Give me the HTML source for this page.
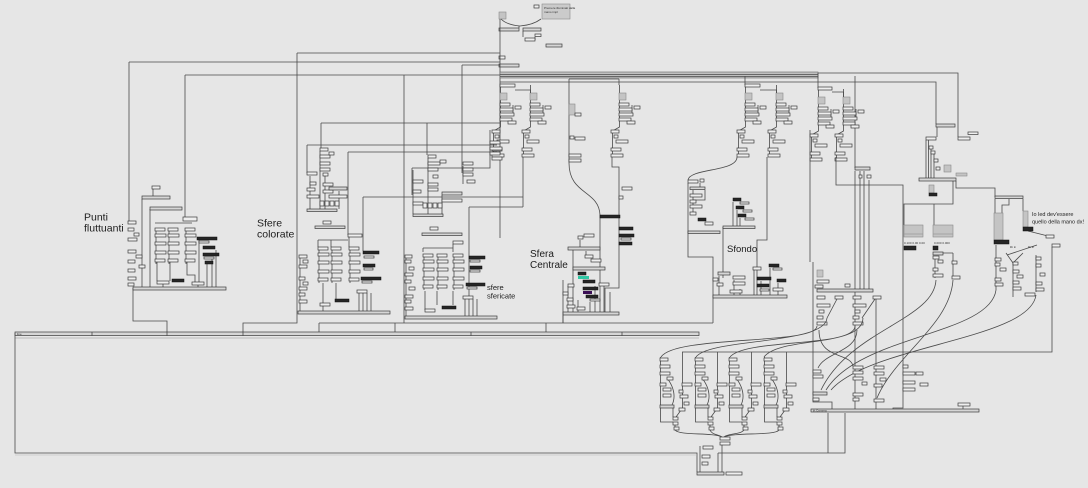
<!DOCTYPE html>
<html><head><meta charset="utf-8">
<style>
html,body{margin:0;padding:0;background:#e6e6e6;width:1088px;height:488px;overflow:hidden}
svg{display:block}
.l{stroke:#4a4a4a;stroke-width:.8;fill:none}
.b{fill:#efefef;stroke:#3a3a3a;stroke-width:.7}
.k{fill:#262626;stroke:#111;stroke-width:.5}
.g{fill:#c4c4c4;stroke:#8a8a8a;stroke-width:.6}
.bar{fill:#d6d6d6;stroke:#3a3a3a;stroke-width:.7}
.lab{font-family:"Liberation Sans",sans-serif;fill:#1c1c1c}
.tiny{font-family:"Liberation Sans",sans-serif;fill:#333;font-size:3px}
</style></head><body>
<svg width="1088" height="488" viewBox="0 0 1088 488" xmlns="http://www.w3.org/2000/svg">
<defs>
<g id="cc">
<path class="l" d="M1,0V36"/>
<rect class="b" x="0" y="0" width="10" height="3"/>
<rect class="b" x="0" y="6" width="11" height="3"/>
<rect class="b" x="0" y="14" width="11" height="3"/>
<rect class="b" x="0" y="23" width="11" height="3"/>
<rect class="b" x="0" y="31" width="10" height="3"/>
</g>
<g id="ctl">
<path class="l" d="M0.5,0V42L-6.5,46V72 M13,20V28"/>
<rect class="g" x="0" y="8" width="7" height="7"/>
<rect class="b" x="0" y="18" width="10" height="3"/>
<rect class="b" x="0" y="23" width="13" height="3"/>
<rect class="b" x="15" y="21" width="6" height="3"/>
<rect class="b" x="0" y="28" width="14" height="3"/>
<rect class="b" x="0" y="33" width="12" height="3"/>
<rect class="b" x="8" y="36" width="8" height="3"/>
<rect class="b" x="-8" y="45" width="8" height="3"/>
<rect class="b" x="-5" y="50" width="4" height="3"/>
<rect class="b" x="-3" y="55" width="12" height="3"/>
<rect class="b" x="-8" y="63" width="10" height="3"/>
<rect class="b" x="-8" y="69" width="12" height="3"/>
</g>
<g id="grp">
<path class="l" d="M0.5,0V65H13 M22.5,-5V26 M13,51V60 M15,68V73 M22.5,29V51L16,60 M7,21C14,30 16,40 12,48"/>
<rect class="b" x="0" y="1" width="8" height="3"/>
<rect class="b" x="0" y="8" width="10" height="3"/>
<rect class="b" x="0" y="15" width="10" height="3"/>
<rect class="b" x="7" y="20" width="6" height="3"/>
<rect class="b" x="0" y="26" width="6" height="3"/>
<rect class="b" x="3" y="31" width="8" height="3"/>
<rect class="b" x="3" y="37" width="8" height="3"/>
<rect class="bar" x="0" y="48" width="14" height="3"/>
<rect class="b" x="22" y="26" width="10" height="3"/>
<rect class="b" x="19" y="33" width="4" height="3"/>
<rect class="b" x="20" y="38" width="8" height="3"/>
<rect class="b" x="24" y="45" width="5" height="3"/>
<rect class="b" x="19" y="51" width="6" height="3"/>
<rect class="b" x="13" y="60" width="5" height="3"/>
<rect class="b" x="13" y="65" width="5" height="3"/>
<rect class="b" x="14" y="70" width="5" height="3"/>
</g>
</defs>

<!-- ===== top controls ===== -->
<rect class="g" x="542" y="4" width="28" height="15" style="fill:#cbcbcb"/>
<text class="tiny" x="544" y="9">Premere illuminati dalla</text>
<text class="tiny" x="544" y="13">mano impl</text>
<rect class="b" x="534" y="5" width="5" height="3"/>
<rect class="g" x="499" y="12" width="7" height="7"/>
<path class="l" d="M501,19Q507,25 520,26Q533,25 541,19 M519,26V28 M523,31V37 M535,37V40"/>
<rect class="bar" x="499" y="28" width="20" height="3"/>
<rect class="bar" x="523" y="28" width="18" height="3"/>
<rect class="b" x="535" y="34" width="6" height="2.5"/>
<rect class="b" x="525" y="38" width="10" height="3"/>
<rect class="bar" x="546" y="44" width="16" height="3"/>
<rect class="b" x="499" y="56" width="6" height="3"/>
<rect class="bar" x="499" y="64" width="20" height="3"/>

<!-- main vertical & long feeds -->
<path class="l" d="M500,19V238 M297,53H500 M129,62H500 M462,65H500 M185,75H500 M404,75V323 M462,65V173 M321,123H500 M307,145H497 M348,152H497 M412,168H490V130 M427,123V155 M363,197H523 M469,207H523 M523,157V207 M307,145V173 M321,123V148 M348,152V235 M363,197V251 M412,168V195 M469,207V297"/>

<!-- bus -->
<rect x="500" y="72" width="318" height="6" fill="#c0c0c0" stroke="#666" stroke-width=".6"/>
<path class="l" d="M500,74.5H818 M500,76.5H818 M818,73H958V137 M745,76V85 M818,73V88 M855,76V168 M569,79H619 M500,82H936V124 M569,79V163 M619,79V85"/>

<!-- control columns -->
<use href="#ctl" x="500" y="85"/>
<use href="#ctl" x="530" y="85"/>
<use href="#ctl" x="619" y="85"/>
<use href="#ctl" x="745" y="85"/>
<use href="#ctl" x="776" y="85"/>
<use href="#ctl" x="818" y="89"/>
<use href="#ctl" x="843" y="89"/>
<rect class="b" x="500" y="84" width="15" height="3"/>
<rect class="b" x="745" y="84" width="15" height="3"/>
<rect class="b" x="818" y="87" width="14" height="3"/>
<path class="l" d="M515,90H530.5V93 M760,90H776.5V93 M832,92H843.5V97"/>
<!-- col3 -->
<rect class="g" x="569" y="104" width="6" height="11"/>
<rect class="b" x="575" y="113" width="6" height="3"/>
<rect class="b" x="570" y="136" width="4" height="3"/>
<rect class="b" x="575" y="137" width="10" height="3"/>
<rect class="b" x="569" y="154" width="12" height="3"/>
<rect class="b" x="569" y="159" width="12" height="3"/>
<path class="l" d="M569,163C569,195 599,190 600,215V313 M612,157V167H619V288H605V313 M610,292V313 M688,180C690,168 737,172 737,157"/>
<rect class="b" x="622" y="187" width="10" height="3"/>
<rect class="b" x="619" y="196" width="4" height="3"/>
<rect class="k" x="600" y="215" width="20" height="3"/>
<rect class="k" x="619" y="227" width="14" height="3"/>
<rect class="k" x="619" y="234" width="15" height="3"/>
<rect class="k" x="619" y="242" width="13" height="3"/>
<rect class="b" x="621" y="238" width="10" height="2"/>

<!-- ===== Punti fluttuanti ===== -->
<path class="l" d="M129,62V222 M142,199V288 M150,209V288 M133,288V321H167V333 M153,189V197 M155,223H192 M185,75V218 M157,262V281 M170,262V281 M187,262V275H195V282 M207,264V288 M212,257V288 M216,250V288 M199,240V283 M163,284V288 M198,285V288"/>
<rect class="b" x="152" y="186" width="8" height="3"/>
<rect class="bar" x="142" y="196" width="28" height="3"/>
<rect class="bar" x="150" y="207" width="32" height="3"/>
<rect class="b" x="183" y="217" width="14" height="4"/>
<use href="#cc" x="155" y="228"/><use href="#cc" x="168" y="228"/><use href="#cc" x="185" y="228"/>
<rect class="b" x="128" y="221" width="8" height="3"/>
<rect class="b" x="128" y="228" width="6" height="3"/>
<rect class="b" x="134" y="233" width="5" height="3"/>
<rect class="b" x="128" y="238" width="9" height="3"/>
<rect class="b" x="128" y="250" width="8" height="3"/>
<rect class="b" x="136" y="255" width="6" height="3"/>
<rect class="b" x="128" y="260" width="7" height="3"/>
<rect class="b" x="139" y="265" width="6" height="3"/>
<rect class="b" x="128" y="269" width="7" height="3"/>
<rect class="b" x="128" y="277" width="8" height="3"/>
<rect class="b" x="128" y="283" width="6" height="3"/>
<rect class="k" x="197" y="237" width="20" height="3"/>
<rect class="b" x="199" y="241" width="10" height="2"/>
<rect class="k" x="203" y="246" width="12" height="3"/>
<rect class="k" x="203" y="253" width="16" height="3"/>
<rect class="b" x="204" y="257" width="10" height="2"/>
<rect class="k" x="205" y="261" width="8" height="3"/>
<rect class="k" x="172" y="279" width="12" height="3"/>
<rect class="b" x="157" y="281" width="12" height="3"/>
<rect class="b" x="192" y="282" width="12" height="3"/>
<rect class="bar" x="133" y="287" width="93" height="3"/>
<text class="lab" x="84" y="220.5" font-size="10.5">Punti</text>
<text class="lab" x="84" y="231.5" font-size="10.5">fluttuanti</text>

<!-- ===== Sfere colorate ===== -->
<path class="l" d="M297,53V323H243V333 M320,151V209 M310,176V209 M325,176V209 M339,191V209 M318,240H348 M318,240V247 M331,240V247 M349,237V247 M359,293V312 M363,293V312 M367,293V312 M371,293V312 M323,283V303 M336,283V299 M300,258V311 M323,306V312"/>
<rect class="b" x="320" y="148" width="8" height="3"/>
<rect class="b" x="320" y="155" width="10" height="3"/>
<rect class="b" x="329" y="152" width="5" height="3"/>
<rect class="b" x="320" y="162" width="10" height="3"/>
<rect class="b" x="320" y="168" width="10" height="3"/>
<rect class="b" x="307" y="172" width="10" height="3"/>
<rect class="b" x="310" y="182" width="6" height="3"/>
<rect class="b" x="307" y="188" width="8" height="3"/>
<rect class="b" x="307" y="195" width="12" height="3"/>
<rect class="b" x="323" y="173" width="5" height="3"/>
<rect class="b" x="323" y="183" width="10" height="3"/>
<rect class="b" x="323" y="190" width="10" height="3"/>
<rect class="bar" x="329" y="187" width="18" height="3"/>
<rect class="b" x="329" y="195" width="18" height="3"/>
<rect class="b" x="320" y="201" width="4" height="5"/>
<rect class="b" x="325" y="201" width="4" height="5"/>
<rect class="b" x="330" y="201" width="4" height="5"/>
<rect class="b" x="335" y="201" width="4" height="5"/>
<rect class="bar" x="307" y="209" width="30" height="2.5"/>
<rect class="b" x="323" y="221" width="8" height="3"/>
<rect class="bar" x="315" y="226" width="30" height="2.5"/>
<rect class="b" x="348" y="234" width="14" height="3"/>
<use href="#cc" x="318" y="247"/><use href="#cc" x="331" y="247"/><use href="#cc" x="349" y="247"/>
<rect class="b" x="299" y="255" width="8" height="3"/>
<rect class="b" x="303" y="260" width="5" height="3"/>
<rect class="b" x="299" y="265" width="8" height="3"/>
<rect class="b" x="299" y="277" width="6" height="3"/>
<rect class="b" x="303" y="282" width="5" height="3"/>
<rect class="b" x="299" y="287" width="8" height="3"/>
<rect class="b" x="299" y="293" width="6" height="3"/>
<rect class="b" x="299" y="300" width="8" height="3"/>
<rect class="k" x="363" y="251" width="16" height="3"/>
<rect class="b" x="364" y="256" width="10" height="2"/>
<rect class="k" x="363" y="264" width="12" height="3"/>
<rect class="b" x="364" y="268" width="9" height="2"/>
<rect class="k" x="361" y="277" width="20" height="3"/>
<rect class="b" x="362" y="281" width="10" height="2"/>
<rect class="b" x="320" y="303" width="10" height="3"/>
<rect class="k" x="335" y="299" width="14" height="3"/>
<rect class="b" x="357" y="290" width="10" height="3"/>
<rect class="bar" x="298" y="311" width="92" height="3"/>
<text class="lab" x="257" y="226.5" font-size="10.5">Sfere</text>
<text class="lab" x="257" y="237.5" font-size="10.5">colorate</text>

<!-- ===== Sfere sfericate ===== -->
<path class="l" d="M413,170V214 M428,158V214 M463,166V184 M442,195V214 M423,248H453 M423,248V252 M453,244V252 M465,299V317 M469,299V317 M473,299V317 M477,299V317 M425,291V310 M437,291V305 M453,291V305 M406,258V317"/>
<rect class="b" x="428" y="155" width="8" height="3"/>
<rect class="b" x="428" y="162" width="12" height="3"/>
<rect class="b" x="440" y="160" width="6" height="3"/>
<rect class="b" x="428" y="168" width="10" height="3"/>
<rect class="b" x="413" y="180" width="10" height="3"/>
<rect class="b" x="413" y="190" width="8" height="3"/>
<rect class="b" x="413" y="202" width="10" height="3"/>
<rect class="b" x="433" y="175" width="5" height="3"/>
<rect class="b" x="428" y="183" width="10" height="3"/>
<rect class="b" x="428" y="188" width="10" height="3"/>
<rect class="bar" x="442" y="192" width="20" height="3"/>
<rect class="b" x="442" y="199" width="20" height="3"/>
<rect class="b" x="463" y="162" width="10" height="3"/>
<rect class="b" x="463" y="168" width="10" height="3"/>
<rect class="b" x="463" y="173" width="10" height="3"/>
<rect class="b" x="467" y="180" width="8" height="3"/>
<rect class="b" x="423" y="203" width="4" height="5"/>
<rect class="b" x="428" y="203" width="4" height="5"/>
<rect class="b" x="433" y="203" width="4" height="5"/>
<rect class="b" x="438" y="203" width="4" height="5"/>
<rect class="bar" x="413" y="214" width="30" height="2.5"/>
<rect class="b" x="490" y="141" width="10" height="3"/>
<rect class="b" x="490" y="147" width="12" height="3"/>
<rect class="b" x="490" y="152" width="10" height="3"/>
<rect class="b" x="492" y="157" width="10" height="3"/>
<rect class="b" x="430" y="227" width="8" height="3"/>
<rect class="bar" x="422" y="233" width="40" height="2.5"/>
<rect class="b" x="453" y="241" width="10" height="3"/>
<use href="#cc" x="423" y="254"/><use href="#cc" x="437" y="254"/><use href="#cc" x="453" y="254"/>
<rect class="b" x="405" y="255" width="7" height="3"/>
<rect class="b" x="405" y="260" width="6" height="3"/>
<rect class="b" x="409" y="267" width="5" height="3"/>
<rect class="b" x="405" y="273" width="8" height="3"/>
<rect class="b" x="405" y="280" width="6" height="3"/>
<rect class="b" x="409" y="287" width="6" height="3"/>
<rect class="b" x="405" y="295" width="8" height="3"/>
<rect class="b" x="405" y="300" width="6" height="3"/>
<rect class="b" x="405" y="307" width="8" height="3"/>
<rect class="k" x="469" y="256" width="16" height="3"/>
<rect class="b" x="470" y="260" width="10" height="2"/>
<rect class="k" x="470" y="266" width="12" height="3"/>
<rect class="b" x="470" y="270" width="10" height="2"/>
<rect class="k" x="466" y="283" width="19" height="3"/>
<rect class="b" x="467" y="287" width="10" height="2"/>
<rect class="k" x="442" y="306" width="14" height="3"/>
<rect class="b" x="463" y="296" width="10" height="3"/>
<rect class="b" x="425" y="309" width="10" height="3"/>
<rect class="bar" x="405" y="316" width="92" height="3"/>
<text class="lab" x="487" y="290" font-size="7.5">sfere</text>
<text class="lab" x="487" y="298.5" font-size="7.5">sfericate</text>

<!-- ===== Sfera Centrale ===== -->
<path class="l" d="M580,240V248 M586,251V256 M576,270V268 M563,280V323 M568,286V313 M573,250V313 M578,300V313 M590,302V313 M595,286V313 M604,286V313"/>
<rect class="b" x="578" y="236" width="5" height="3"/>
<rect class="b" x="584" y="234" width="10" height="3"/>
<rect class="bar" x="568" y="247" width="32" height="3"/>
<rect class="b" x="585" y="255" width="8" height="3"/>
<rect class="b" x="591" y="259" width="10" height="3"/>
<rect class="bar" x="573" y="267" width="32" height="3"/>
<rect class="k" x="578" y="272" width="8" height="3"/>
<rect x="578" y="276" width="11" height="3" fill="#2fc8a4"/>
<rect class="k" x="583" y="280" width="12" height="3"/>
<rect class="k" x="583" y="287" width="15" height="3"/>
<rect x="583" y="291" width="9" height="3" fill="#3b0f55"/>
<rect class="k" x="586" y="295" width="12" height="3"/>
<rect class="b" x="590" y="299" width="10" height="2"/>
<rect class="b" x="568" y="284" width="6" height="3"/>
<rect class="b" x="563" y="292" width="5" height="3"/>
<rect class="b" x="567" y="298" width="6" height="3"/>
<rect class="b" x="567" y="305" width="8" height="3"/>
<rect class="b" x="577" y="307" width="8" height="3"/>
<rect class="b" x="599" y="283" width="10" height="3"/>
<rect class="bar" x="563" y="312" width="56" height="3"/>
<text class="lab" x="530" y="257" font-size="10">Sfera</text>
<text class="lab" x="530" y="268" font-size="10">Centrale</text>

<!-- ===== Sfondo ===== -->
<path class="l" d="M688,183V257H713V323 M700,183V188 M693,190V212 M705,190V200H693 M723,227V278 M767,157V240H757V296 M733,202V227 M737,210V227 M740,218V227 M719,276V296 M734,280V296 M740,289V296 M754,270V296 M761,281V296 M770,268V296 M778,283V296"/>
<rect class="b" x="688" y="180" width="10" height="3"/>
<rect class="b" x="700" y="179" width="4" height="3"/>
<rect class="bar" x="690" y="187" width="15" height="2.5"/>
<rect class="b" x="690" y="194" width="12" height="3"/>
<rect class="b" x="690" y="200" width="6" height="3"/>
<rect class="b" x="690" y="205" width="12" height="3"/>
<rect class="b" x="690" y="212" width="6" height="3"/>
<rect class="k" x="698" y="218" width="8" height="3"/>
<rect class="b" x="705" y="222" width="8" height="3"/>
<rect class="bar" x="688" y="231" width="32" height="2.5"/>
<rect class="k" x="733" y="198" width="8" height="3"/>
<rect class="b" x="740" y="202" width="9" height="2"/>
<rect class="k" x="736" y="206" width="8" height="3"/>
<rect class="b" x="743" y="210" width="9" height="2"/>
<rect class="k" x="738" y="214" width="8" height="3"/>
<rect class="b" x="745" y="218" width="9" height="2"/>
<rect class="bar" x="723" y="226" width="32" height="2.5"/>
<rect class="bar" x="718" y="272" width="12" height="3"/>
<rect class="b" x="713" y="278" width="5" height="3"/>
<rect class="b" x="717" y="283" width="6" height="3"/>
<rect class="b" x="733" y="276" width="12" height="3"/>
<rect class="b" x="733" y="282" width="12" height="3"/>
<rect class="b" x="730" y="290" width="12" height="3"/>
<rect class="b" x="753" y="267" width="8" height="3"/>
<rect class="k" x="769" y="264" width="10" height="3"/>
<rect class="b" x="773" y="268" width="9" height="2"/>
<rect class="k" x="757" y="277" width="14" height="3"/>
<rect class="k" x="757" y="284" width="12" height="3"/>
<rect class="b" x="760" y="289" width="9" height="2"/>
<rect class="k" x="777" y="279" width="9" height="3"/>
<rect class="b" x="773" y="288" width="10" height="3"/>
<rect class="bar" x="713" y="295" width="74" height="3"/>
<text class="lab" x="727" y="252" font-size="9.5">Sfondo</text>

<!-- bottom connection lines to big bar -->
<path class="l" d="M319,323H713 M319,323V333 M395,323V333 M546,323V333 M563,313V323"/>
<rect class="bar" x="15" y="332" width="684" height="3.5"/>
<path d="M15,338H699" stroke="#aaa" stroke-width=".7"/>
<path class="l" d="M92,332V336 M167,332V336 M243,332V336 M471,332V336 M622,332V336"/>
<text class="tiny" x="17" y="334.8">line</text>
<path class="l" d="M15,333V453H697V472 M718,453H845V413 M828,453V413 M718,453V472"/>
<path d="M15,455H697" stroke="#b4b4b4" stroke-width=".6"/>

<!-- ===== right upper ===== -->
<path class="l" d="M810,130V262 M813,262V402H832V409 M836,157V185H903V408H893V409 M860,171V290 M864,171V290 M869,180V290 M876,296V409 M855,171V409"/>
<rect class="bar" x="855" y="167" width="15" height="3"/>
<rect class="b" x="859" y="175" width="3" height="3"/>
<rect class="b" x="867" y="175" width="4" height="3"/>
<rect class="bar" x="936" y="124" width="19" height="3"/>
<rect class="b" x="958" y="137" width="12" height="3"/>
<rect class="b" x="968" y="132" width="10" height="2.5"/>
<rect class="b" x="926" y="137" width="10" height="3"/>
<path class="l" d="M926,140V178 M928.5,140V178 M931,147V178 M934,152V178 M937,127V137 M953,181V204H904V225 M934,204V225 M956,181V188H995V197 M995,199V213 M1009,199V205H1002V213 M1023,199V211 M1028,231L1048,236 M1052,247V352H682"/>
<rect class="b" x="929" y="146" width="4" height="3"/>
<rect class="b" x="931" y="151" width="4" height="3"/>
<rect class="b" x="934" y="159" width="4" height="3"/>
<rect class="b" x="936" y="167" width="4" height="3"/>
<rect class="g" x="944" y="165" width="7" height="7"/>
<rect class="g" x="956" y="173" width="11" height="3"/>
<rect class="bar" x="919" y="178" width="37" height="3"/>
<rect class="g" x="929" y="185" width="5" height="8"/>
<rect class="k" x="929" y="193" width="8" height="3"/>
<rect class="bar" x="995" y="196" width="28" height="2.5"/>
<rect class="g" x="994" y="213" width="9" height="27"/>
<rect class="k" x="994" y="240" width="15" height="4"/>
<rect class="g" x="1023" y="211" width="5" height="16"/>
<rect class="k" x="1023" y="227" width="10" height="4"/>
<rect class="b" x="1046" y="235" width="8" height="3"/>
<rect class="b" x="1052" y="244" width="8" height="3"/>
<text class="lab" x="1032" y="216" font-size="5.5">Io led dev'essere</text>
<text class="lab" x="1032" y="223.5" font-size="5.5">quello della mano dx!</text>
<rect class="g" x="904" y="225" width="19" height="12"/>
<rect class="g" x="933" y="225" width="20" height="12"/>
<path d="M904,234H923 M933,234H953" stroke="#999" stroke-width=".8"/>
<text class="tiny" x="904" y="244">0.100 0.00 0.00</text>
<text class="tiny" x="934" y="244">0.000 0.000</text>
<rect class="k" x="904" y="246" width="12" height="4"/>
<rect class="k" x="933" y="246" width="5" height="4"/>
<path class="l" d="M933,253H953 M935,256V278 M953,253V278 M996,245V290 M1006,253L1013,263 M1023,253L1013,263 M1013,263V297 M1037,245L1007,255 M1036,255V292"/>
<rect class="bar" x="933" y="252" width="10" height="3"/>
<rect class="b" x="933" y="256" width="6" height="3"/>
<rect class="b" x="938" y="260" width="5" height="3"/>
<rect class="b" x="933" y="268" width="5" height="3"/>
<rect class="b" x="933" y="274" width="10" height="3"/>
<rect class="b" x="952" y="261" width="5" height="3"/>
<rect class="b" x="952" y="276" width="8" height="3"/>
<text class="tiny" x="1010" y="248">lib in</text>
<text class="tiny" x="1028" y="248">lib in</text>
<rect class="b" x="995" y="258" width="6" height="3"/>
<rect class="b" x="995" y="263" width="5" height="3"/>
<rect class="b" x="1000" y="268" width="6" height="3"/>
<rect class="b" x="995" y="278" width="6" height="3"/>
<rect class="b" x="995" y="283" width="8" height="3"/>
<rect class="b" x="1013" y="262" width="5" height="3"/>
<rect class="b" x="1013" y="270" width="6" height="3"/>
<rect class="b" x="1017" y="275" width="6" height="3"/>
<rect class="b" x="1013" y="281" width="6" height="3"/>
<rect class="b" x="1013" y="287" width="8" height="3"/>
<rect class="b" x="1025" y="293" width="10" height="3"/>
<rect class="b" x="1036" y="257" width="5" height="3"/>
<rect class="b" x="1036" y="264" width="5" height="3"/>
<rect class="b" x="1040" y="273" width="5" height="3"/>
<rect class="b" x="1036" y="282" width="6" height="3"/>
<rect class="b" x="1036" y="288" width="8" height="3"/>

<!-- lower right columns -->
<rect class="g" x="817" y="270" width="6" height="7"/>
<rect class="b" x="817" y="280" width="12" height="3"/>
<rect class="b" x="815" y="285" width="8" height="3"/>
<rect class="bar" x="817" y="289" width="56" height="3"/>
<rect class="b" x="845" y="284" width="5" height="3"/>
<rect class="b" x="817" y="296" width="8" height="3"/>
<rect class="b" x="835" y="296" width="8" height="3"/>
<rect class="b" x="853" y="296" width="8" height="3"/>
<rect class="b" x="873" y="296" width="8" height="3"/>
<rect class="b" x="817" y="304" width="13" height="3"/>
<rect class="b" x="819" y="310" width="5" height="3"/>
<rect class="b" x="817" y="316" width="6" height="3"/>
<rect class="b" x="817" y="322" width="10" height="3"/>
<rect class="b" x="853" y="304" width="13" height="3"/>
<rect class="b" x="855" y="310" width="5" height="3"/>
<rect class="b" x="853" y="316" width="6" height="3"/>
<rect class="b" x="853" y="322" width="10" height="3"/>
<path class="l" d="M837,299L827,318 M875,299L862,318"/>

<!-- curves -->
<path class="l" d="M817,326C817,345 675,335 661,357 M827,318C825,345 710,338 696,357 M855,326C855,348 745,338 730,357 M863,318C862,348 780,336 764,357 M936,280C934,320 850,330 821,390 M953,280C950,325 895,355 877,398 M996,290C990,335 860,335 826,390 M1036,295C1030,340 870,345 831,390 M819,330C819,360 850,352 853,366 M857,330C857,352 825,352 818,368"/>

<!-- bottom groups -->
<use href="#grp" x="660" y="357"/>
<use href="#grp" x="695" y="357"/>
<use href="#grp" x="729" y="357"/>
<use href="#grp" x="764" y="357"/>
<path class="l" d="M675,430C680,436 712,432 722,437 M710,430C712,435 718,434 722,437 M744,430C740,435 728,433 724,437 M779,430C775,436 735,432 724,437 M722,445V472 M700,446V472"/>
<rect class="b" x="720" y="437" width="10" height="3"/>
<rect class="b" x="720" y="442" width="10" height="3"/>
<rect class="b" x="703" y="446" width="10" height="3"/>
<rect class="b" x="702" y="455" width="8" height="3"/>
<rect class="b" x="702" y="462" width="6" height="3"/>
<rect class="bar" x="697" y="472" width="27" height="3"/>
<rect class="b" x="726" y="472" width="16" height="3"/>

<!-- right bottom -->
<rect class="b" x="813" y="370" width="8" height="3"/>
<rect class="b" x="813" y="375" width="10" height="3"/>
<rect class="bar" x="813" y="392" width="14" height="3"/>
<rect class="b" x="813" y="398" width="6" height="3"/>
<rect class="b" x="853" y="366" width="10" height="3"/>
<rect class="b" x="853" y="371" width="10" height="3"/>
<rect class="b" x="853" y="377" width="10" height="3"/>
<rect class="b" x="862" y="382" width="5" height="3"/>
<rect class="b" x="853" y="393" width="10" height="3"/>
<rect class="b" x="853" y="398" width="6" height="3"/>
<rect class="b" x="874" y="366" width="10" height="3"/>
<rect class="b" x="874" y="372" width="10" height="3"/>
<rect class="b" x="880" y="378" width="6" height="3"/>
<rect class="b" x="874" y="384" width="8" height="3"/>
<rect class="b" x="874" y="399" width="10" height="3"/>
<rect class="b" x="903" y="365" width="5" height="3"/>
<rect class="b" x="903" y="372" width="12" height="3"/>
<rect class="b" x="916" y="372" width="7" height="3"/>
<rect class="b" x="903" y="381" width="12" height="3"/>
<rect class="b" x="920" y="383" width="8" height="3"/>
<rect class="b" x="903" y="388" width="12" height="3"/>
<rect class="bar" x="811" y="409" width="168" height="3"/>
<text class="tiny" x="813" y="411.5">jit.Camera</text>
<rect class="b" x="958" y="403" width="12" height="3"/>
<path class="l" d="M963,406V409"/>
</svg>
</body></html>
